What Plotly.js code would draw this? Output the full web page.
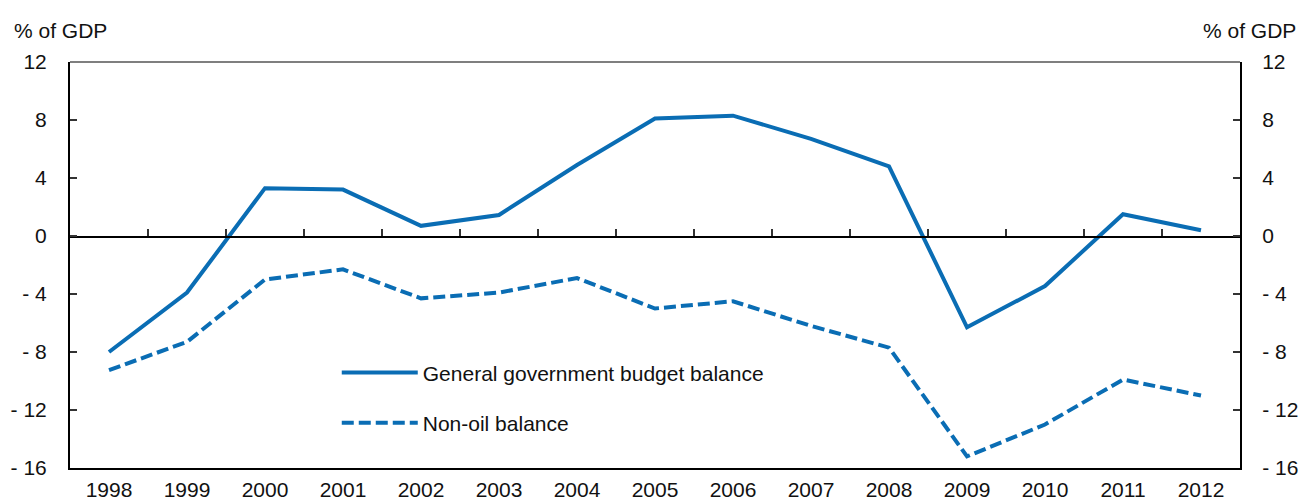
<!DOCTYPE html>
<html><head><meta charset="utf-8">
<script src="https://cdn.plot.ly/plotly-3.0.1.min.js"></script>
<style>html,body{margin:0;padding:0;background:#fff}#chart{width:1301px;height:502px}</style>
</head><body><div id="chart"></div>
<script>
const years = ["1998","1999","2000","2001","2002","2003","2004","2005","2006","2007","2008","2009","2010","2011","2012"];
const generalBalance = [-8.0,-3.9,3.3,3.2,0.7,1.45,4.9,8.1,8.3,6.7,4.8,-6.3,-3.45,1.5,0.4];
const nonOilBalance = [-9.25,-7.3,-3.0,-2.3,-4.3,-3.9,-2.9,-5.0,-4.5,-6.2,-7.7,-15.2,-13.0,-9.9,-11.0];
const yTickVals = [12,8,4,0,-4,-8,-12,-16];
const yTickText = ["12","8","4","0","- 4","- 8","- 12","- 16"];
const seriesNames = ["General government budget balance","Non-oil balance"];
const unitLabel = "% of GDP";

const blue = "#0a6db4";
const font = {family:"Liberation Sans, Arial, sans-serif", size:21, color:"#111"};
const yMin = -16, yMax = 12;
const boundaries = years.slice(0,-1).map((_,i)=>i+0.5);

const traces = [
  {x:years, y:generalBalance, name:seriesNames[0], type:"scatter", mode:"lines",
   line:{color:blue, width:4}, legendgroup:"a", xaxis:"x", yaxis:"y"},
  {x:years, y:nonOilBalance, name:seriesNames[1], type:"scatter", mode:"lines",
   line:{color:blue, width:4, dash:"12px,5px"}, legendgroup:"b", xaxis:"x", yaxis:"y"},
  {x:[0], y:[null], xaxis:"x2", yaxis:"y2", showlegend:false, hoverinfo:"skip", type:"scatter", mode:"lines"}
];

const yCommon = {range:[yMin,yMax], tickmode:"array", tickvals:yTickVals, ticktext:yTickText,
  ticks:"inside", ticklen:7, tickwidth:1.5, tickcolor:"#333", showline:true, linecolor:"#000", linewidth:2,
  showgrid:false, zeroline:false, tickfont:font, fixedrange:true};

const layout = {
  width:1301, height:502,
  margin:{l:70, r:61, t:62, b:34},
  paper_bgcolor:"#fff", plot_bgcolor:"#fff",
  font:font,
  showlegend:true,
  legend:{x:0.228, y:0.285, xanchor:"left", yanchor:"top", font:font, bgcolor:"rgba(0,0,0,0)",
          traceorder:"grouped", tracegroupgap:20, itemwidth:76},
  xaxis:{type:"category", range:[-0.5, years.length-0.5], showline:true, linecolor:"#000", linewidth:2,
         ticks:"", showgrid:false, zeroline:false, tickfont:font, anchor:"y", fixedrange:true, ticklabelstandoff:2},
  xaxis2:{overlaying:"x", anchor:"free", position:(0-yMin)/(yMax-yMin), type:"linear",
          range:[-0.5, years.length-0.5], tickmode:"array", tickvals:boundaries,
          ticks:"inside", ticklen:7, tickwidth:1.5, tickcolor:"#333", showticklabels:false,
          showline:true, linecolor:"#000", linewidth:1.5, showgrid:false, zeroline:false, fixedrange:true},
  yaxis:Object.assign({}, yCommon, {side:"left", anchor:"x", ticklabelstandoff:17}),
  yaxis2:Object.assign({}, yCommon, {side:"right", overlaying:"y", anchor:"x", ticklabelstandoff:16}),
  shapes:[{type:"line", xref:"paper", yref:"paper", x0:0, x1:1, y0:1, y1:1, line:{color:"#555", width:1.5}}],
  annotations:[
    {text:unitLabel, xref:"paper", yref:"paper", x:-0.05, y:1, xanchor:"left", yanchor:"bottom", yshift:18, showarrow:false, font:font},
    {text:unitLabel, xref:"paper", yref:"paper", x:1.0495, y:1, xanchor:"right", yanchor:"bottom", yshift:18, showarrow:false, font:font}
  ]
};

Plotly.newPlot("chart", traces, layout, {displayModeBar:false, staticPlot:true});
</script></body></html>
